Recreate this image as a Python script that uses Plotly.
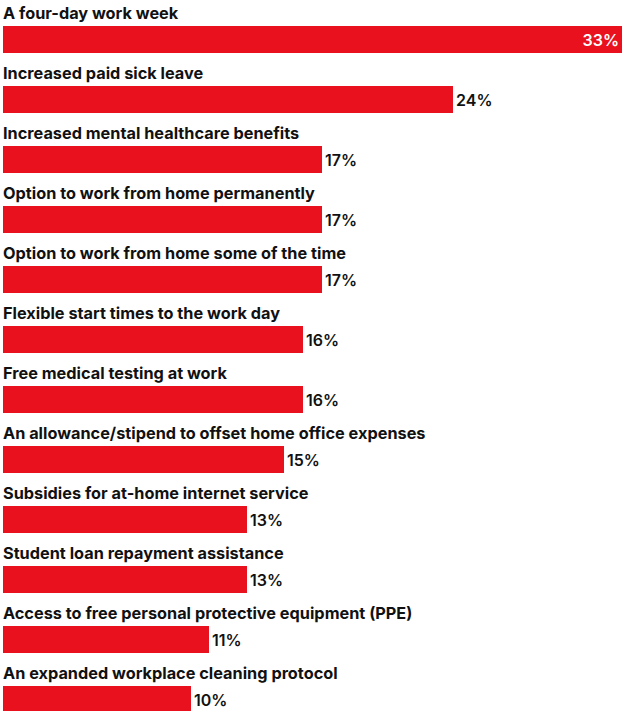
import plotly.graph_objects as go

categories = [
    "A four-day work week",
    "Increased paid sick leave",
    "Increased mental healthcare benefits",
    "Option to work from home permanently",
    "Option to work from home some of the time",
    "Flexible start times to the work day",
    "Free medical testing at work",
    "An allowance/stipend to offset home office expenses",
    "Subsidies for at-home internet service",
    "Student loan repayment assistance",
    "Access to free personal protective equipment (PPE)",
    "An expanded workplace cleaning protocol",
]
values = [33, 24, 17, 17, 17, 16, 16, 15, 13, 13, 11, 10]
value_labels = [f"{v}%" for v in values]

RED = "#E8111D"
FONT = "Inter"
FS = 16

idx = list(range(len(categories)))
positions = ["inside"] + ["outside"] * (len(values) - 1)

fig = go.Figure(
    go.Bar(
        x=values,
        y=idx,
        orientation="h",
        width=0.45,
        marker=dict(color=RED, line=dict(width=0)),
        text=value_labels,
        textposition=positions,
        insidetextanchor="end",
        textangle=0,
        insidetextfont=dict(color="white", size=FS, family=FONT, weight=600),
        outsidetextfont=dict(color="#111111", size=FS, family=FONT, weight=600),
        cliponaxis=False,
        hoverinfo="skip",
    )
)

for i, c in zip(idx, categories):
    fig.add_annotation(
        x=0, y=i, xref="x", yref="y",
        text=c, showarrow=False,
        xanchor="left", yanchor="middle",
        xshift=-2, yshift=27,
        font=dict(family=FONT, size=16.3, color="#111111", weight=700),
    )

fig.update_layout(
    width=623, height=711,
    margin=dict(l=3, r=0, t=0, b=0),
    paper_bgcolor="white", plot_bgcolor="white",
    showlegend=False,
    bargap=0,
    xaxis=dict(range=[0, 33.05], visible=False, fixedrange=True),
    yaxis=dict(range=[(711 - 39.5) / 60, -39.5 / 60], visible=False, fixedrange=True),
)

fig.write_html(
    "out.html",
    config={"displayModeBar": False},
    post_script="document.body.style.margin='0';document.body.style.overflow='hidden';",
)
